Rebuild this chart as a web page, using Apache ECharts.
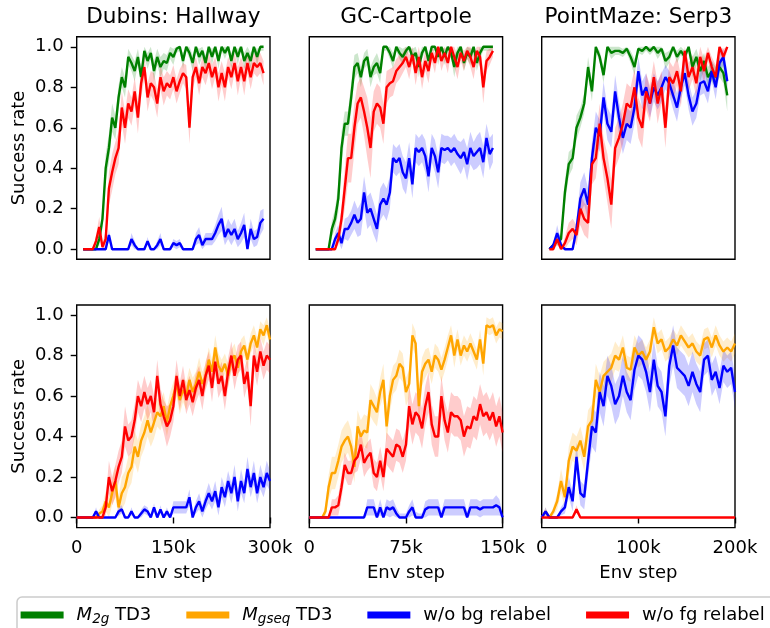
<!DOCTYPE html>
<html><head><meta charset="utf-8">
<script src="https://cdn.jsdelivr.net/npm/echarts@6/dist/echarts.min.js"></script>
<style>html,body{margin:0;padding:0;background:#fff}#c{width:770px;height:628px}</style>
</head><body><div id="c"></div>
<script>
const FONT = 'DejaVu Sans';
const titles = ['Dubins: Hallway', 'GC-Cartpole', 'PointMaze: Serp3'];
const xMaxes = [300000, 150000, 200000];
const yTicks = [0, 0.2, 0.4, 0.6, 0.8, 1.0];
const legendNames = ['M2g', 'Mgseq', 'bg', 'fg'];
const colors = {M2g: '#008000', Mgseq: '#ffa500', bg: '#0000ff', fg: '#ff0000'};
const bandColors = {M2g: 'rgba(0,128,0,0.2)', Mgseq: 'rgba(255,165,0,0.2)', bg: 'rgba(0,0,255,0.2)', fg: 'rgba(255,0,0,0.2)'};

// ---- Top row: Dubins Hallway (x from 10k, step 5k) ----
const hallTopM2g = [0,0,0,0,0,0.05,0.15,0.4,0.5,0.65, 0.6,0.75,0.85,0.8,0.95,0.92,0.88,0.95,0.85,0.98, 0.93,0.97,0.88,0.95,0.9,0.93,0.92,0.97,0.95,0.99, 1.0,0.93,1.0,0.97,0.92,1.0,0.95,0.98,0.92,1.0, 0.95,1.0,0.93,1.0,0.97,1.0,0.93,1.0,0.95,1.0, 0.93,0.97,0.93,1.0,0.95,1.0,1.0];
const hallTopM2gStd = [0,0,0,0,0,0.03,0.05,0.07,0.07,0.07, 0.06,0.06,0.05,0.05,0.04,0.04,0.05,0.04,0.05,0.03, 0.04,0.03,0.05,0.04,0.05,0.04,0.04,0.03,0.04,0.02, 0.02,0.04,0.02,0.03,0.04,0.02,0.04,0.03,0.04,0.02, 0.04,0.02,0.04,0.02,0.03,0.02,0.04,0.02,0.04,0.02, 0.04,0.03,0.04,0.02,0.04,0.02,0.02];
const hallTopBg = [0,0,0,0,0,0,0,0, 0.07,0,0,0,0,0,0, 0.05,0.02,0,0,0, 0.04,0,0,0.02,0.05, 0,0,0,0.03,0.02, 0.03,0,0,0,0, 0.05,0.07,0.02,0.05,0.05, 0.05,0.08,0.12,0.15,0.06, 0.1,0.07,0.1,0.05,0.08, 0.12,0.0,0.1,0.05,0.06, 0.13,0.15];
const hallTopBgStd = [0,0,0,0,0,0,0,0, 0.03, 0,0,0,0,0,0, 0.03,0.02,0,0,0, 0.02,0,0,0.02,0.03, 0,0,0,0.02,0.02, 0.02,0,0,0,0, 0.03,0.04,0.02,0.03,0.03, 0.03,0.04,0.05,0.06,0.04, 0.05,0.05,0.05,0.04,0.05, 0.06,0.03,0.05,0.04,0.04, 0.06,0.05];
const hallTopFg = [0,0,0,0,0.04,0.11,0.01,0.05,0.3,0.38, 0.45,0.5,0.7,0.6,0.72,0.68,0.78,0.65,0.82,0.9, 0.75,0.82,0.8,0.72,0.85,0.78,0.82,0.8,0.85,0.78, 0.83,0.87,0.85,0.6,0.85,0.9,0.82,0.9,0.87,0.92, 0.85,0.9,0.8,0.87,0.8,0.9,0.85,0.92,0.83,0.9, 0.83,0.92,0.85,0.92,0.9,0.92,0.87];
const hallTopFgStd = [0,0,0,0,0.03,0.05,0.02,0.04,0.08,0.09, 0.08,0.08,0.08,0.08,0.07,0.07,0.07,0.08,0.07,0.06, 0.07,0.06,0.07,0.07,0.06,0.07,0.06,0.06,0.06,0.06, 0.06,0.05,0.06,0.08,0.06,0.05,0.06,0.05,0.06,0.05, 0.06,0.05,0.07,0.06,0.07,0.05,0.06,0.05,0.07,0.05, 0.07,0.05,0.06,0.05,0.05,0.05,0.06];

// ---- Top row: GC-Cartpole (x from 5k, step 2.5k) ----
const cartTopM2g = [0,0,0,0,0,0.1,0.15,0.25,0.5,0.62, 0.62,0.75,0.9,0.92,0.85,0.93,0.95,0.85,0.9,0.92, 0.87,1,1,0.97,0.93,1,0.97,0.95,0.98,1, 0.95,0.97,0.9,0.97,1,0.93,1,1,0.95,1, 0.95,1,0.97,0.9,0.97,1,0.92,0.97,0.95,1, 0.92,0.97,1,1,1,1];
const cartTopM2gStd = [0,0,0,0,0,0.04,0.05,0.07,0.08,0.06, 0.06,0.07,0.06,0.05,0.05,0.04,0.04,0.05,0.04,0.05, 0.05,0.02,0.02,0.03,0.04,0.02,0.03,0.04,0.03,0.02, 0.04,0.03,0.05,0.03,0.02,0.04,0.02,0.02,0.04,0.02, 0.04,0.02,0.03,0.05,0.03,0.02,0.04,0.03,0.04,0.02, 0.04,0.03,0.02,0.02,0.02,0.02];
const cartTopBg = [0,0,0,0,0,0,0.05,0.08,0.03,0.1, 0.1,0.13,0.17,0.13,0.15,0.28,0.18,0.2,0.15,0.1, 0.22,0.25,0.22,0.28,0.45,0.43,0.45,0.38,0.35,0.45, 0.32,0.5,0.48,0.5,0.46,0.36,0.5,0.46,0.38,0.5, 0.49,0.5,0.48,0.5,0.47,0.45,0.48,0.42,0.5,0.46, 0.48,0.5,0.43,0.55,0.47,0.5];
const cartTopBgStd = [0,0,0,0,0,0,0.03,0.04,0.03,0.05, 0.06,0.06,0.07,0.07,0.08,0.08,0.08,0.08,0.08,0.07, 0.08,0.08,0.08,0.08,0.07,0.07,0.07,0.08,0.08,0.08, 0.07,0.07,0.07,0.07,0.08,0.08,0.07,0.08,0.08,0.07, 0.07,0.06,0.07,0.07,0.07,0.08,0.07,0.08,0.08,0.07, 0.08,0.08,0.08,0.07,0.08,0.07];
const cartTopFg = [0,0,0,0,0,0,0,0.05,0.15,0.3, 0.45,0.45,0.6,0.72,0.75,0.68,0.6,0.5,0.68,0.72, 0.7,0.62,0.8,0.82,0.83,0.88,0.9,0.92,0.95,0.9, 0.96,0.87,0.95,0.85,0.93,0.88,0.97,0.92,1.0,0.93, 0.97,0.92,1.0,0.95,0.9,0.97,0.93,0.98,0.95,0.9, 0.98,0.95,0.8,0.93,0.95,0.98];
const cartTopFgStd = [0,0,0,0,0,0,0,0.03,0.06,0.1, 0.12,0.12,0.12,0.1,0.1,0.12,0.15,0.15,0.1,0.1, 0.1,0.1,0.08,0.07,0.07,0.06,0.06,0.05,0.05,0.06, 0.04,0.06,0.05,0.06,0.05,0.06,0.04,0.05,0.03,0.05, 0.04,0.05,0.03,0.05,0.06,0.04,0.05,0.04,0.05,0.06, 0.04,0.05,0.08,0.05,0.04,0.03];

// ---- Top row: PointMaze Serp3 (x from 8k, step 4k) ----
const serpTopM2g = [0,0.02,0.04,0.05,0.28,0.42,0.45,0.6,0.65,0.72, 0.9,0.78,1,0.95,0.86,1,0.97,0.98,0.98,0.97, 0.99,0.95,0.9,0.99,0.98,1,0.98,1,0.97,0.99, 0.93,0.95,1,0.95,0.98,0.95,1,0.9,0.95,0.88, 0.93,0.85,0.88,0.85,0.9,0.87,0.76];
const serpTopM2gStd = [0,0.01,0.02,0.03,0.06,0.06,0.05,0.06,0.05,0.05, 0.05,0.05,0.02,0.03,0.04,0.02,0.03,0.02,0.02,0.02, 0.02,0.03,0.04,0.02,0.02,0.02,0.02,0.02,0.03,0.02, 0.04,0.03,0.02,0.03,0.02,0.03,0.02,0.05,0.04,0.05, 0.04,0.05,0.05,0.05,0.05,0.05,0.08];
const serpTopBg = [0,0.02,0.08,0.02,0,0,0,0.1,0.25,0.3, 0.22,0.45,0.6,0.56,0.75,0.62,0.58,0.78,0.65,0.55, 0.62,0.6,0.7,0.88,0.76,0.8,0.72,0.8,0.76,0.8, 0.85,0.82,0.76,0.7,0.8,0.87,0.76,0.68,0.72,0.82, 0.83,0.78,0.88,0.8,0.92,0.95,0.83];
const serpTopBgStd = [0,0.01,0.04,0.02,0,0,0,0.05,0.08,0.08, 0.08,0.08,0.08,0.08,0.08,0.08,0.08,0.08,0.08,0.08, 0.08,0.08,0.08,0.07,0.07,0.07,0.07,0.07,0.07,0.07, 0.06,0.06,0.07,0.07,0.06,0.06,0.07,0.07,0.07,0.06, 0.06,0.06,0.05,0.06,0.05,0.04,0.05];
const serpTopFg = [0,0,0.05,0,0.03,0.08,0.1,0.07,0.2,0.15, 0.13,0.42,0.45,0.62,0.45,0.35,0.22,0.5,0.55,0.62, 0.72,0.7,0.8,0.65,0.6,0.78,0.72,0.85,0.72,0.8, 0.6,0.85,0.82,0.88,0.78,0.98,0.85,0.9,0.82,0.95, 0.88,0.97,0.9,0.85,1,0.95,1];
const serpTopFgStd = [0,0,0.03,0,0.03,0.05,0.05,0.05,0.08,0.08, 0.08,0.1,0.1,0.1,0.1,0.12,0.12,0.1,0.1,0.1, 0.1,0.1,0.09,0.1,0.1,0.09,0.09,0.08,0.1,0.08, 0.1,0.08,0.08,0.07,0.08,0.06,0.07,0.06,0.07,0.05, 0.06,0.04,0.05,0.06,0.03,0.04,0.02];

// ---- Bottom row: Dubins Hallway (x from 0, step 5k) ----
const hallBotMgseq = [0,0,0,0,0,0,0,0.02,0.03,0.08, 0.05,0.12,0.18,0.05,0.12,0.15,0.22,0.25,0.35,0.3, 0.38,0.42,0.48,0.42,0.47,0.52,0.5,0.55,0.47,0.55, 0.6,0.66,0.58,0.63,0.6,0.68,0.62,0.66,0.72,0.66, 0.7,0.78,0.72,0.84,0.75,0.72,0.76,0.7,0.78,0.8, 0.74,0.82,0.85,0.78,0.86,0.9,0.84,0.93,0.9,0.95, 0.88];
const hallBotMgseqStd = [0,0,0,0,0,0,0,0.02,0.03,0.05, 0.05,0.06,0.08,0.05,0.08,0.08,0.08,0.08,0.08,0.08, 0.08,0.08,0.08,0.07,0.08,0.07,0.07,0.07,0.07,0.07, 0.07,0.06,0.07,0.06,0.07,0.06,0.07,0.06,0.07,0.06, 0.06,0.06,0.06,0.06,0.06,0.06,0.05,0.06,0.05,0.06, 0.05,0.06,0.05,0.05,0.05,0.05,0.05,0.04,0.05,0.04, 0.05];
const hallBotBg = [0,0,0,0,0,0,0.03,0,0,0, 0,0,0,0.03,0.04,0,0,0.03,0,0, 0.02,0.04,0.03,0,0.05,0,0.04,0,0.03,0, 0.05,0.05,0.05,0.05,0.05,0.1,0,0.05,0.08,0.03, 0.08,0.12,0.08,0.13,0.05,0.15,0.1,0.18,0.12,0.2, 0.08,0.18,0.12,0.24,0.15,0.22,0.12,0.2,0.15,0.22, 0.18];
const hallBotBgStd = [0,0,0,0,0,0,0.02,0,0,0, 0,0,0,0.02,0.02,0,0,0.02,0,0, 0.02,0.02,0.02,0,0.02,0,0.02,0,0.02,0, 0.03,0.03,0.03,0.03,0.03,0.04,0.02,0.03,0.04,0.03, 0.04,0.05,0.04,0.05,0.04,0.05,0.05,0.05,0.05,0.06, 0.05,0.06,0.05,0.06,0.05,0.06,0.05,0.06,0.05,0.06, 0.05];
const hallBotFg = [0,0,0,0,0,0,0,0,0,0.05, 0.2,0.13,0.18,0.25,0.3,0.45,0.38,0.4,0.48,0.6, 0.55,0.62,0.56,0.6,0.52,0.7,0.56,0.5,0.45,0.48, 0.55,0.7,0.6,0.68,0.58,0.63,0.57,0.64,0.68,0.6, 0.7,0.75,0.64,0.77,0.66,0.7,0.6,0.72,0.8,0.7, 0.78,0.8,0.66,0.72,0.55,0.8,0.72,0.82,0.75,0.8, 0.78];
const hallBotFgStd = [0,0,0,0,0,0,0,0,0,0.04, 0.08,0.07,0.08,0.08,0.08,0.1,0.08,0.08,0.08,0.08, 0.08,0.08,0.08,0.08,0.08,0.08,0.08,0.08,0.1,0.08, 0.08,0.08,0.07,0.07,0.07,0.07,0.07,0.07,0.07,0.07, 0.07,0.07,0.07,0.07,0.07,0.07,0.07,0.07,0.07,0.07, 0.07,0.07,0.07,0.07,0.1,0.07,0.07,0.07,0.07,0.07, 0.07];

// ---- Bottom row: GC-Cartpole (x from 0, step 2.5k) ----
const cartBotMgseq = [0,0,0,0,0,0.03,0.15,0.22,0.22,0.28, 0.35,0.38,0.4,0.35,0.25,0.45,0.4,0.43,0.42,0.58, 0.55,0.52,0.62,0.68,0.45,0.6,0.68,0.7,0.76,0.74, 0.62,0.66,0.9,0.86,0.55,0.72,0.76,0.78,0.72,0.8, 0.78,0.73,0.78,0.84,0.9,0.8,0.88,0.8,0.85,0.82, 0.86,0.82,0.78,0.88,0.76,0.95,0.94,0.95,0.9,0.93, 0.92];
const cartBotMgseqStd = [0,0,0,0,0,0.03,0.06,0.08,0.08,0.08, 0.08,0.08,0.08,0.08,0.08,0.08,0.08,0.08,0.08,0.08, 0.08,0.07,0.07,0.08,0.08,0.08,0.07,0.07,0.07,0.07, 0.07,0.07,0.06,0.06,0.1,0.07,0.07,0.06,0.06,0.06, 0.06,0.06,0.06,0.06,0.05,0.06,0.05,0.05,0.05,0.05, 0.05,0.05,0.05,0.05,0.06,0.04,0.04,0.04,0.04,0.04, 0.04];
const cartBotBg = [0,0,0,0,0,0,0,0,0,0, 0,0,0,0,0,0,0,0,0.05,0.05, 0.05,0,0.05,0,0.05,0.04,0.05,0.02,0,0, 0,0.03,0.05,0,0,0,0.04,0.05,0.05,0.05, 0.05,0,0.05,0.05,0.05,0.05,0.05,0.05,0.05,0, 0.05,0.05,0.05,0.04,0.05,0.05,0.05,0.05,0.06,0.05, 0];
const cartBotBgStd = [0,0,0,0,0,0,0,0,0,0, 0,0,0,0,0,0,0,0,0.04,0.04, 0.04,0.03,0.04,0.03,0.04,0.04,0.04,0.03,0.02,0.02, 0.02,0.03,0.04,0.03,0.02,0.02,0.04,0.04,0.04,0.04, 0.04,0.03,0.04,0.04,0.04,0.04,0.04,0.04,0.04,0.03, 0.04,0.04,0.04,0.04,0.04,0.04,0.04,0.04,0.05,0.04, 0.02];
const cartBotFg = [0,0,0,0,0,0,0,0.05,0.05,0.06, 0.15,0.26,0.22,0.22,0.28,0.3,0.36,0.27,0.3,0.32, 0.22,0.2,0.28,0.2,0.34,0.32,0.3,0.36,0.35,0.3, 0.36,0.55,0.46,0.52,0.5,0.44,0.55,0.62,0.46,0.4, 0.4,0.6,0.48,0.42,0.52,0.5,0.5,0.48,0.4,0.45, 0.44,0.5,0.48,0.56,0.5,0.52,0.48,0.52,0.45,0.5, 0.42];
const cartBotFgStd = [0,0,0,0,0,0,0,0.04,0.04,0.05, 0.06,0.06,0.06,0.06,0.06,0.07,0.07,0.07,0.07,0.07, 0.07,0.07,0.07,0.07,0.08,0.08,0.08,0.08,0.08,0.08, 0.08,0.1,0.1,0.1,0.1,0.1,0.1,0.1,0.1,0.1, 0.1,0.1,0.1,0.1,0.1,0.1,0.1,0.1,0.1,0.1, 0.1,0.1,0.1,0.1,0.1,0.1,0.1,0.1,0.1,0.1, 0.1];

// ---- Bottom row: PointMaze Serp3 (x from 0, step 4k) ----
const serpBotMgseq = [0,0.03,0,0.03,0.08,0.18,0.1,0.28,0.35,0.33, 0.38,0.3,0.45,0.48,0.68,0.62,0.7,0.72,0.74,0.8, 0.78,0.84,0.74,0.73,0.84,0.8,0.82,0.78,0.82,0.94, 0.86,0.88,0.82,0.84,0.88,0.85,0.9,0.87,0.84,0.86, 0.82,0.8,0.88,0.89,0.84,0.9,0.85,0.82,0.84,0.82, 0.86];
const serpBotMgseqStd = [0,0.02,0,0.02,0.04,0.06,0.05,0.07,0.07,0.07, 0.07,0.07,0.08,0.08,0.08,0.08,0.07,0.07,0.07,0.07, 0.06,0.06,0.06,0.06,0.06,0.06,0.06,0.06,0.06,0.05, 0.05,0.05,0.05,0.05,0.05,0.05,0.05,0.05,0.05,0.05, 0.05,0.05,0.05,0.05,0.05,0.05,0.05,0.05,0.05,0.05, 0.05];
const serpBotBg = [0,0.03,0,0,0,0.03,0.05,0.15,0.08,0.3, 0.12,0.1,0.28,0.45,0.42,0.62,0.55,0.7,0.65,0.56, 0.6,0.7,0.62,0.58,0.73,0.8,0.78,0.72,0.62,0.78, 0.65,0.62,0.5,0.75,0.85,0.74,0.72,0.7,0.65,0.72, 0.66,0.62,0.78,0.8,0.68,0.72,0.64,0.75,0.72,0.74, 0.62];
const serpBotBgStd = [0,0.02,0,0,0,0.02,0.03,0.05,0.05,0.07, 0.06,0.06,0.08,0.1,0.1,0.1,0.1,0.1,0.1,0.1, 0.1,0.1,0.1,0.1,0.1,0.1,0.1,0.1,0.1,0.1, 0.1,0.1,0.1,0.1,0.1,0.1,0.1,0.1,0.1,0.1, 0.1,0.1,0.08,0.08,0.08,0.08,0.08,0.08,0.08,0.08, 0.08];
const serpBotFg = [0,0,0,0,0,0,0,0,0,0.04, 0,0,0,0,0,0,0,0,0,0, 0,0,0,0,0,0,0,0,0,0, 0,0,0,0,0,0,0,0,0,0, 0,0,0,0,0,0,0,0,0,0, 0];
const serpBotFgStd = [0,0,0,0,0,0,0,0,0,0.02, 0,0,0,0,0,0,0,0,0,0, 0,0,0,0,0,0,0,0,0,0, 0,0,0,0,0,0,0,0,0,0, 0,0,0,0,0,0,0,0,0,0, 0];

function steps(start, step, n) { const a = []; for (let i = 0; i < n; i++) a.push(start + i * step); return a; }

const panels = [
  {row: 0, col: 0, x: steps(10000, 5000, 57), lines: [['M2g', hallTopM2g, hallTopM2gStd], ['bg', hallTopBg, hallTopBgStd], ['fg', hallTopFg, hallTopFgStd]]},
  {row: 0, col: 1, x: steps(5000, 2500, 56), lines: [['M2g', cartTopM2g, cartTopM2gStd], ['bg', cartTopBg, cartTopBgStd], ['fg', cartTopFg, cartTopFgStd]]},
  {row: 0, col: 2, x: steps(8000, 4000, 47), lines: [['M2g', serpTopM2g, serpTopM2gStd], ['bg', serpTopBg, serpTopBgStd], ['fg', serpTopFg, serpTopFgStd]]},
  {row: 1, col: 0, x: steps(0, 5000, 61), lines: [['Mgseq', hallBotMgseq, hallBotMgseqStd], ['bg', hallBotBg, hallBotBgStd], ['fg', hallBotFg, hallBotFgStd]]},
  {row: 1, col: 1, x: steps(0, 2500, 61), lines: [['Mgseq', cartBotMgseq, cartBotMgseqStd], ['bg', cartBotBg, cartBotBgStd], ['fg', cartBotFg, cartBotFgStd]]},
  {row: 1, col: 2, x: steps(0, 4000, 51), lines: [['Mgseq', serpBotMgseq, serpBotMgseqStd], ['bg', serpBotBg, serpBotBgStd], ['fg', serpBotFg, serpBotFgStd]]}
];

const GL = [76.7, 309.3, 541.7], GW = 193.3, GT = [36.7, 305], GH = 222.6;
const grids = [], xAxes = [], yAxes = [], series = [];
const tickStyle = {color: '#000', width: 1.4};
const labelBase = {color: '#000', fontSize: 18, fontFamily: FONT};

panels.forEach((p, gi) => {
  grids.push({left: GL[p.col], top: GT[p.row], width: GW, height: GH, show: true, borderColor: '#000', borderWidth: 1.4, backgroundColor: 'rgba(0,0,0,0)'});
  const xm = xMaxes[p.col];
  xAxes.push({
    gridIndex: gi, type: 'value', min: 0, max: xm, interval: xm / 2,
    axisLine: {show: false}, splitLine: {show: false},
    axisTick: {show: p.row === 1, length: 6, lineStyle: tickStyle},
    axisLabel: Object.assign({show: p.row === 1, margin: 12, formatter: v => v === 0 ? '0' : (v / 1000) + 'k'}, labelBase),
    name: p.row === 1 ? 'Env step' : '', nameLocation: 'middle', nameGap: 37,
    nameTextStyle: labelBase
  });
  yAxes.push({
    gridIndex: gi, type: 'value', min: -0.05, max: 1.05,
    axisLine: {show: false}, splitLine: {show: false},
    axisTick: {show: p.col === 0, length: 6, lineStyle: tickStyle, customValues: yTicks},
    axisLabel: Object.assign({show: p.col === 0, margin: 13, customValues: yTicks, formatter: v => v.toFixed(1)}, labelBase),
    name: p.col === 0 ? 'Success rate' : '', nameLocation: 'middle', nameGap: 48,
    nameTextStyle: labelBase
  });
  p.lines.forEach(([key, vals, std]) => {
    const n = Math.min(p.x.length, vals.length, std.length);
    const band = [], main = [];
    for (let i = 0; i < n; i++) {
      band.push([p.x[i], Math.max(0, vals[i] - std[i]), Math.min(1, vals[i] + std[i])]);
      main.push([p.x[i], vals[i]]);
    }
    const fill = bandColors[key];
    series.push({
      type: 'custom', name: 'band_' + key, xAxisIndex: gi, yAxisIndex: gi, data: band, silent: true,
      encode: {x: 0, y: [1, 2]},
      renderItem: (params, api) => {
        if (params.dataIndex !== 0) return null;
        const pts = [];
        for (let i = 0; i < band.length; i++) pts.push(api.coord([band[i][0], band[i][2]]));
        for (let i = band.length - 1; i >= 0; i--) pts.push(api.coord([band[i][0], band[i][1]]));
        return {type: 'polygon', shape: {points: pts}, style: {fill: fill, stroke: null}, silent: true};
      }
    });
    series.push({type: 'line', name: key, xAxisIndex: gi, yAxisIndex: gi, data: main, symbol: 'none',
      lineStyle: {color: colors[key], width: 2.4}, itemStyle: {color: colors[key]}});
  });
});

const legendLabels = {
  M2g: '{i|M}{s|2g}{t| TD3}',
  Mgseq: '{i|M}{s|gseq}{t| TD3}',
  bg: '{t|w/o bg relabel}',
  fg: '{t|w/o fg relabel}'
};

const graphic = titles.map((t, c) => ({
  type: 'text', x: GL[c] + GW / 2, y: 17,
  style: {text: t, fontSize: 21.6, fontFamily: FONT, fill: '#000', align: 'center', verticalAlign: 'middle'}
}));
graphic.push({type: 'rect', shape: {x: 17, y: 597, width: 800, height: 60, r: 5},
  style: {fill: '#fff', stroke: '#cccccc', lineWidth: 1.5}, z: -10});

const option = {
  animation: false,
  backgroundColor: '#fff',
  grid: grids, xAxis: xAxes, yAxis: yAxes, series,
  graphic,
  legend: {
    left: 20.6, top: 604, padding: 0, itemWidth: 43, itemHeight: 7, itemGap: 35, icon: 'rect',
    data: legendNames, selectedMode: false,
    formatter: name => legendLabels[name],
    textStyle: {
      color: '#000', fontSize: 18, fontFamily: FONT, padding: [0, 0, 0, 8],
      rich: {
        i: {fontStyle: 'italic', fontSize: 18, fontFamily: FONT, color: '#000', lineHeight: 22},
        s: {fontStyle: 'italic', fontSize: 13.5, fontFamily: FONT, color: '#000', lineHeight: 13, padding: [8, 0, 0, 0], verticalAlign: 'bottom'},
        t: {fontSize: 18, fontFamily: FONT, color: '#000', lineHeight: 22}
      }
    }
  }
};

const chart = echarts.init(document.getElementById('c'), null, {renderer: 'canvas'});
chart.setOption(option);
</script>
</body></html>
